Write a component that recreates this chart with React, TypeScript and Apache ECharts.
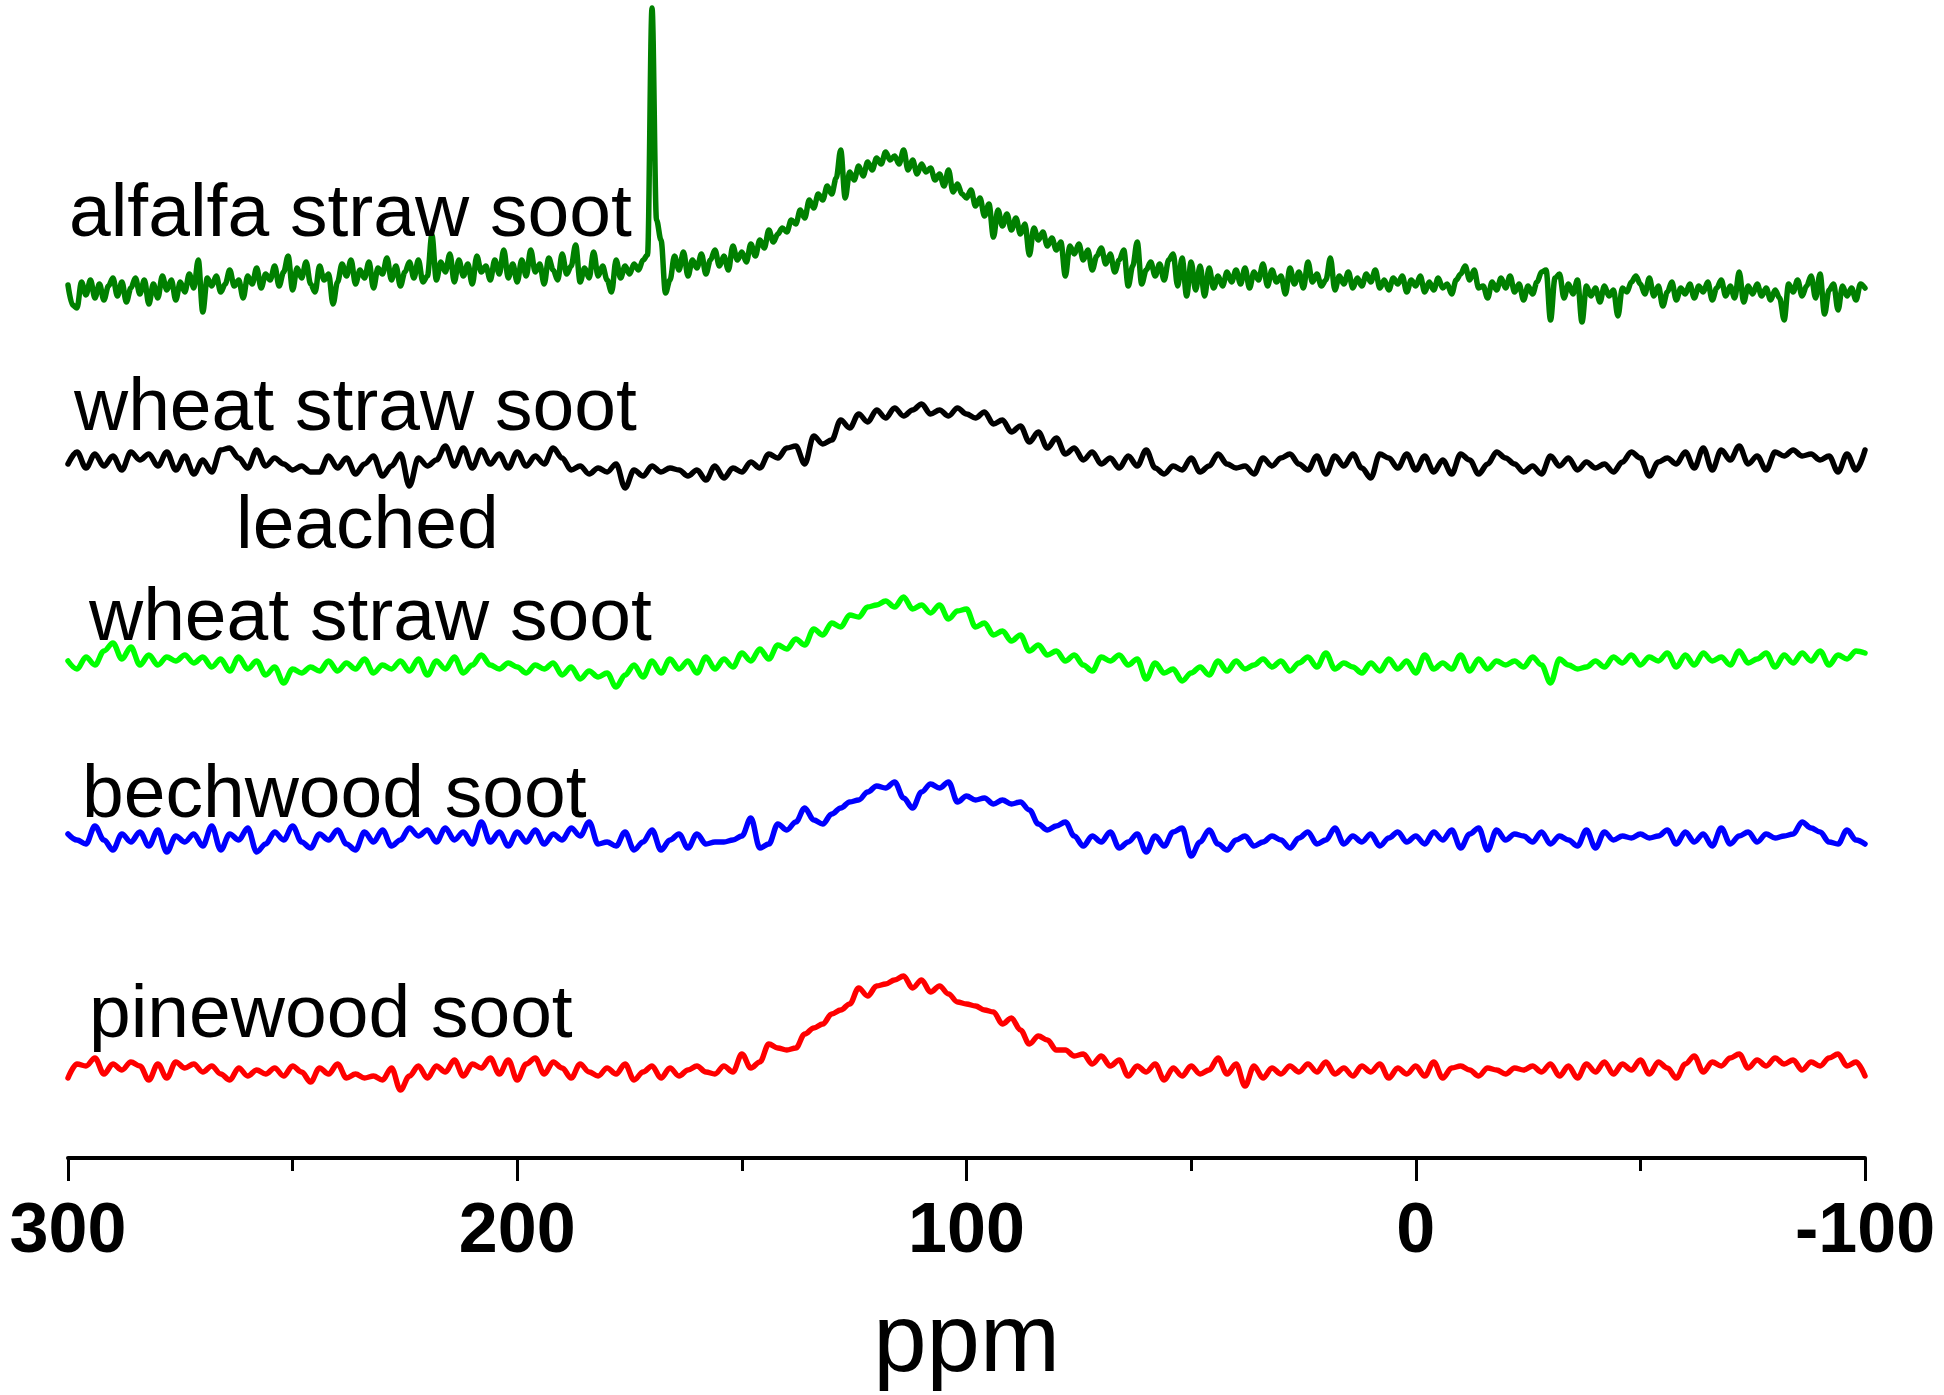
import React, { useEffect, useRef } from "react";
import * as echarts from "echarts";

// ppm axis (reversed: 300 on the left, -100 on the right)
const X_MIN = -100;
const X_MAX = 300;
const X_INTERVAL = 100;

const seriesNames = [
  "alfalfa straw soot",
  "wheat straw soot leached",
  "wheat straw soot",
  "bechwood soot",
  "pinewood soot",
];
const seriesColors = ["#008000", "#000000", "#00FF00", "#0000FF", "#FF0000"];
// vertical stacking offsets of each trace (arbitrary intensity units)
const offsets = [868, 696, 495, 320, 88];
// sampling step (ppm) of each trace, starting at 300 ppm
const steps = [1, 2, 2, 2, 2];

// alfalfa straw soot, 300 -> -100 ppm, 1 ppm step
const alfalfa = [
  5, -15, -18, 8, -5, 10, -8, 6, -10, 4, 12, -6, 8, -12, 2, 12, -4, 10, -14, 6,
  -8, 14, 0, 10, -10, 8, -2, 16, 2, 30, -22, 12, 4, 14, -2, 6, 20, 4, 10, -8,
  14, 6, 22, 2, 16, 10, 24, 4, 18, 34, 0, 22, 12, 28, 6, -2, 24, 10, 16, -14,
  8, 26, 14, 30, 6, 20, 12, 28, 2, 22, 16, 32, 10, 24, 4, 18, 28, 12, 30, 8,
  14, 55, 10, 28, 18, 36, 8, 30, 14, 26, 6, 34, 18, 24, 10, 30, 16, 40, 12, 26,
  8, 30, 14, 40, 18, 26, 6, 32, 20, 10, 36, 16, 24, 45, 8, 22, 12, 38, 14, 24,
  10, -2, 30, 12, 24, 16, 26, 20, 30, 35, 282, 70, 50, -3, 10, 34, 20, 38, 14, 30,
  22, 36, 16, 30, 40, 24, 34, 20, 44, 30, 38, 28, 46, 34, 50, 42, 60, 48, 56, 62,
  58, 70, 66, 80, 72, 90, 82, 96, 90, 104, 96, 112, 140, 92, 118, 110, 124, 114, 128, 120,
  132, 126, 138, 130, 134, 126, 140, 120, 130, 116, 126, 118, 122, 110, 116, 104, 120, 98, 106, 96,
  92, 100, 84, 92, 74, 86, 53, 80, 64, 76, 60, 72, 56, 66, 35, 62, 50, 58, 44, 52,
  40, 48, 14, 44, 36, 46, 30, 40, 20, 34, 42, 26, 36, 18, 30, 40, 4, 24, 48, 6,
  20, 28, 14, 26, 10, 30, 36, 4, 32, -6, 28, 0, 24, -6, 22, 2, 14, 4, 18, 8,
  20, 6, 22, 2, 18, 10, 26, 4, 20, 8, 14, -4, 22, 6, 18, 2, 28, 8, 16, 4,
  10, 32, 0, 14, 6, 18, 2, 12, 4, 16, 8, 20, 2, 10, 0, 12, 6, 14, -2, 10,
  4, 14, -2, 8, 0, 12, 2, 6, -4, 10, 16, 24, 10, 20, 2, 4, -8, 8, 0, 12,
  2, 14, -2, 6, -10, 4, -4, 8, 18, 20, -30, 12, 16, -8, 6, -4, 10, -32, 4, -6,
  2, -12, 4, -6, 0, -26, 2, -2, 8, 14, 6, -4, 12, -6, 4, -16, -2, 8, -10, 2,
  -4, 6, -8, 4, -2, 8, -10, 2, 10, -6, 4, -8, 18, -12, 4, -4, 6, -6, 2, -10,
  0, -8, -30, 6, -2, 10, -6, 4, 14, -8, 16, -24, 0, 6, -20, 4, -6, 2, -10, 6,
  2,
];

// wheat straw soot leached, 2 ppm step
const wheatLeached = [
  -2, 10, -6, 8, -4, 6, -8, 10, 2, 8,
  -4, 10, -8, 6, -12, 2, -10, 12, 14, 4,
  -6, 12, -4, 4, -2, -8, -4, -10, -10, 6,
  -6, 4, -12, -2, 6, -14, -4, 8, -24, 4,
  -4, 2, 16, -4, 14, -6, 12, -2, 8, -6,
  10, -4, 6, -2, 14, 4, -8, -4, -12, -6,
  -10, -2, -26, -8, -14, -4, -10, -6, -8, -14,
  -8, -18, -4, -16, -6, -10, 0, -6, 8, 4,
  14, 16, -2, 26, 18, 22, 42, 34, 48, 40,
  52, 44, 54, 46, 52, 58, 48, 52, 46, 54,
  48, 44, 50, 38, 42, 30, 36, 20, 30, 14,
  24, 8, 14, 2, 10, -2, 4, -6, 6, -4,
  12, -6, -12, -4, -8, 4, -10, -4, 8, -2,
  -6, -4, -12, 4, -4, 4, 8, -2, -8, 6,
  -12, 6, -4, 8, -6, -16, 8, 4, -6, 8,
  -8, 6, -10, 2, -12, 8, 2, -12, -2, 10,
  4, -2, -10, -4, -12, 6, -4, 4, -8, 0,
  -6, -2, -10, 0, 10, 4, -14, 0, 4, -2,
  10, -6, 14, -8, 12, 2, 16, -2, 6, -8,
  10, 6, 12, 6, 8, 2, 6, -10, 8, -8,
  12,
];

// wheat straw soot, 2 ppm step
const wheat = [
  2, -6, 6, -2, 12, 20, 4, 16, -2, 8,
  -2, 6, 2, 8, 0, 6, -4, 4, -8, 6,
  -6, 2, -12, -4, -20, -6, -10, -4, -8, 2,
  -8, 0, -6, 4, -10, -2, -6, 2, -8, 4,
  -12, 2, -6, 6, -10, -2, 8, -2, -6, 0,
  -4, -10, -2, -6, 0, -12, -4, -16, -8, -14,
  -10, -24, -12, -2, -14, 2, -10, 4, -6, 2,
  -10, 6, -6, 4, -4, 10, 2, 14, 4, 18,
  14, 24, 18, 34, 28, 40, 36, 48, 46, 56,
  58, 62, 56, 66, 54, 58, 50, 58, 44, 52,
  54, 36, 40, 28, 32, 22, 28, 12, 18, 8,
  12, 2, 8, -2, -8, 6, 2, 8, -2, 4,
  -16, 0, -10, -6, -18, -10, -4, -12, 2, -8,
  2, -6, -2, 4, -4, 2, -8, 0, 6, -4,
  10, -6, 0, -4, -10, 0, -8, 4, -6, 2,
  -10, 8, -6, 0, -6, 8, -8, 4, -6, 2,
  -2, 2, -4, 6, -2, -20, 4, -2, -6, -4,
  2, -4, 6, 0, 8, -2, 6, 2, 10, -4,
  8, -2, 10, 2, 6, -2, 12, 0, 4, 10,
  -4, 8, 0, 10, 2, 12, -2, 8, 4, 12,
  10,
];

// bechwood soot, 2 ppm step
const bechwood = [
  4, -2, -6, 12, -2, -12, 4, -4, 6, -8,
  8, -14, 2, -4, 4, -8, 12, -12, 4, -2,
  10, -14, -6, 6, -2, 12, -4, -10, 4, -2,
  8, -6, -12, 6, -4, 8, -8, -2, 10, 2,
  8, -4, 10, -2, 6, -6, 16, -4, 6, -8,
  6, -4, 8, -6, 4, -2, 10, 2, 16, -6,
  -4, -8, 6, -12, -4, 8, -12, -2, 4, -10,
  4, -6, -4, -4, -2, 2, 20, -10, -6, 14,
  8, 16, 30, 18, 14, 24, 30, 36, 38, 46,
  52, 50, 56, 40, 30, 46, 54, 50, 56, 36,
  42, 38, 40, 34, 38, 34, 36, 28, 14, 8,
  12, 16, 2, -8, 2, -4, 6, -10, -4, 4,
  -14, 2, -8, 6, 10, -18, -4, 8, -6, -12,
  -2, 2, -8, -4, 2, -2, -10, 0, 6, -6,
  -2, 10, -6, 2, -4, 4, -8, 0, 6, -4,
  2, -6, 6, -2, 8, -10, 4, 10, -12, 8,
  -2, 4, 2, -4, 6, -6, 2, -2, -8, 8,
  -10, 6, -2, 2, 0, 4, 0, 2, 8, -6,
  6, -4, 4, -8, 10, -6, 2, 6, -4, 4,
  0, 2, 4, 16, 10, 6, -4, -6, 8, -2,
  -6,
];

// pinewood soot, 2 ppm step
const pinewood = [
  -8, 6, 4, 12, -4, 6, 0, 8, 4, -10,
  6, -8, 8, 2, 6, -2, 4, -4, -10, 2,
  -6, 0, -4, 2, -6, 4, -2, -12, 2, -4,
  6, -8, -4, -8, -6, -10, 2, -20, -6, 4,
  -8, 4, -2, 10, -6, 6, 2, 12, -4, 10,
  -10, 6, 12, -4, 8, 2, -8, 6, -2, -6,
  2, -4, 6, -10, -2, 4, -8, 2, -6, 0,
  4, -2, -4, 4, -2, 16, 2, 8, 26, 22,
  20, 22, 36, 42, 46, 56, 60, 66, 82, 74,
  84, 86, 90, 94, 82, 90, 78, 84, 76, 68,
  66, 64, 60, 58, 46, 52, 40, 26, 34, 30,
  20, 20, 14, 16, 6, 14, 4, 10, -6, 4,
  -2, 6, -10, 2, -6, 4, -4, 0, 12, -4,
  6, -16, 4, -8, 2, -4, 4, -2, 6, -2,
  8, -4, 2, -6, 4, -2, 6, -8, 2, -4,
  4, -6, 8, -8, 2, 4, 0, -6, 2, 0,
  -4, 2, 0, 4, -2, 6, -6, 4, -8, 6,
  -2, 8, -4, 6, 0, 10, -4, 8, 2, -8,
  6, 14, -2, 8, 4, 12, 16, 2, 10, 4,
  12, 6, 10, 0, 8, 4, 12, 16, 4, 8,
  -6,
];

const traces = [alfalfa, wheatLeached, wheat, bechwood, pinewood];

// label text of each trace (lines)
const labelTexts = [
  "alfalfa straw soot",
  "wheat straw soot",
  "leached",
  "wheat straw soot",
  "bechwood soot",
  "pinewood soot",
];

const FONT = '"Liberation Sans", Arial, Helvetica, sans-serif';

function toPairs(values: number[], step: number, offset: number) {
  return values.map((v, i) => [X_MAX - i * step, v + offset]);
}

export default function App() {
  const ref = useRef<HTMLDivElement>(null);

  useEffect(() => {
    document.body.style.margin = "0";
    if (!ref.current) return;
    const chart = echarts.init(ref.current, undefined, { renderer: "svg" });

    const labelPos = [
      [69, 210],
      [74, 404],
      [236, 522],
      [89, 614],
      [82, 791],
      [89, 1011],
    ];

    const option: any = {
      animation: false,
      backgroundColor: "#ffffff",
      grid: { left: 68, right: 79, top: 8, bottom: 237, containLabel: false },
      xAxis: {
        type: "value",
        inverse: true,
        min: X_MIN,
        max: X_MAX,
        interval: X_INTERVAL,
        name: "ppm",
        nameLocation: "middle",
        nameGap: 131,
        nameTextStyle: { fontFamily: FONT, fontSize: 96, color: "#000" },
        axisLine: { show: true, onZero: false, lineStyle: { color: "#000", width: 4 } },
        axisTick: { show: true, length: 23, lineStyle: { color: "#000", width: 3 } },
        minorTick: { show: true, splitNumber: 2, length: 13, lineStyle: { color: "#000", width: 3 } },
        axisLabel: {
          margin: 35,
          fontFamily: FONT,
          fontSize: 70,
          fontWeight: "bold",
          color: "#000",
        },
        splitLine: { show: false },
        minorSplitLine: { show: false },
      },
      yAxis: {
        type: "value",
        min: 0,
        max: 1150,
        show: false,
        splitLine: { show: false },
      },
      series: traces.map((vals, k) => ({
        name: seriesNames[k],
        type: "line",
        data: toPairs(vals, steps[k], offsets[k]),
        showSymbol: false,
        symbol: "none",
        smooth: 0.35,
        smoothMonotone: "x",
        clip: false,
        lineStyle: { color: seriesColors[k], width: 5.5, join: "round", cap: "round" },
        itemStyle: { color: seriesColors[k] },
        z: 2,
      })),
      graphic: labelTexts.map((t, i) => ({
        type: "text",
        x: labelPos[i][0],
        y: labelPos[i][1],
        z: 10,
        style: {
          text: t,
          fontFamily: FONT,
          fontSize: 75,
          fill: "#000",
          align: "left",
          verticalAlign: "middle",
        },
      })),
    };

    chart.setOption(option);
    return () => chart.dispose();
  }, []);

  return <div ref={ref} style={{ width: 1944, height: 1395 }} />;
}
